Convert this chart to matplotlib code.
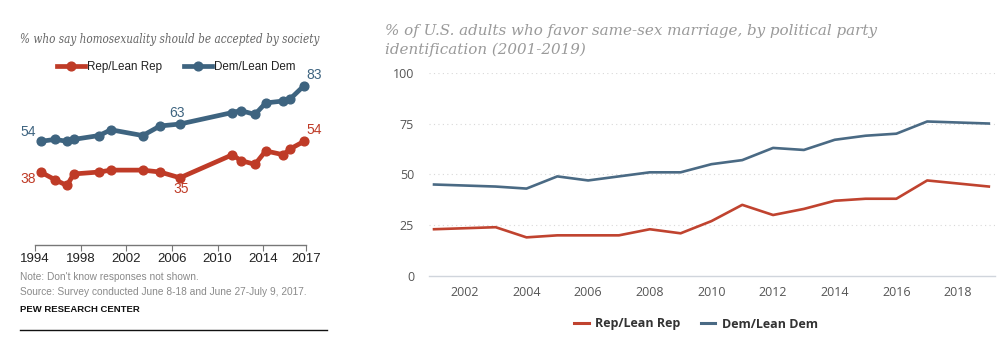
import matplotlib
matplotlib.use("Agg")
import matplotlib.pyplot as plt
from matplotlib.lines import Line2D

# ---------------- Left chart data ----------------
left_years = [1994.5, 1995.75, 1996.8, 1997.4, 1999.6, 2000.66, 2003.44, 2004.96,
              2006.7, 2011.3, 2012.03, 2013.28, 2014.22, 2015.76, 2016.35, 2017.58]
left_dem = [54, 55, 54, 55, 57, 60, 57, 62, 63, 69, 70, 68, 74, 75, 76, 83]
left_rep = [38, 34, 31, 37, 38, 39, 39, 38, 35, 47, 44, 42, 49, 47, 50, 54]
left_tick_pos = [1994, 1998, 2002, 2006, 2010, 2014, 2017.75]
left_tick_labels = ["1994", "1998", "2002", "2006", "2010", "2014", "2017"]

# ---------------- Right chart data ----------------
right_years = [2001, 2003, 2004, 2005, 2006, 2007, 2008, 2009, 2010, 2011,
               2012, 2013, 2014, 2015, 2016, 2017, 2019]
right_rep = [23, 24, 19, 20, 20, 20, 23, 21, 27, 35, 30, 33, 37, 38, 38, 47, 44]
right_dem = [45, 44, 43, 49, 47, 49, 51, 51, 55, 57, 63, 62, 67, 69, 70, 76, 75]
right_xticks = [2002, 2004, 2006, 2008, 2010, 2012, 2014, 2016, 2018]
right_yticks = [0, 25, 50, 75, 100]

RED_L = "#bf3b27"
BLUE_L = "#3e6480"
RED_R = "#c0432f"
BLUE_R = "#4a6a84"

W, H = 1008, 350
fig = plt.figure(figsize=(W / 100, H / 100), dpi=100)
fig.patch.set_facecolor("white")


def box(x0, y0, x1, y1):
    # pixel box (top-left origin) -> figure fraction rect
    return [x0 / W, 1 - y1 / H, (x1 - x0) / W, (y1 - y0) / H]


# ================= LEFT CHART =================
axl = fig.add_axes(box(35, 53, 306, 245))
axl.set_xlim(1994, 2017.75)
axl.set_ylim(0, 100)
axl.plot(left_years, left_rep, color=RED_L, lw=3.4, marker="o", ms=6.3,
         solid_capstyle="round", zorder=3, clip_on=False)
axl.plot(left_years, left_dem, color=BLUE_L, lw=3.4, marker="o", ms=6.3,
         solid_capstyle="round", zorder=3, clip_on=False)
for s in ["top", "right", "left"]:
    axl.spines[s].set_visible(False)
axl.spines["bottom"].set_color("#777777")
axl.spines["bottom"].set_linewidth(1.0)
axl.set_yticks([])
axl.set_xticks(left_tick_pos)
axl.set_xticklabels(left_tick_labels, fontsize=9.5, color="#222222",
                    family="Liberation Sans")
axl.tick_params(axis="x", direction="out", length=4, color="#777777", pad=2)

lbl_kw = dict(fontsize=10, family="Liberation Sans", textcoords="offset points")
axl.annotate(str(left_dem[0]), (left_years[0], left_dem[0]), xytext=(-9, 7),
             ha="center", va="center", color=BLUE_L, **lbl_kw)
axl.annotate(str(left_rep[0]), (left_years[0], left_rep[0]), xytext=(-9, -5),
             ha="center", va="center", color=RED_L, **lbl_kw)
axl.annotate(str(left_dem[8]), (left_years[8], left_dem[8]), xytext=(-2, 8),
             ha="center", va="center", color=BLUE_L, **lbl_kw)
axl.annotate(str(left_rep[8]), (left_years[8], left_rep[8]), xytext=(1, -8),
             ha="center", va="center", color=RED_L, **lbl_kw)
axl.annotate(str(left_dem[-1]), (left_years[-1], left_dem[-1]), xytext=(7, 8),
             ha="center", va="center", color=BLUE_L, **lbl_kw)
axl.annotate(str(left_rep[-1]), (left_years[-1], left_rep[-1]), xytext=(7, 8),
             ha="center", va="center", color=RED_L, **lbl_kw)

handles = [Line2D([], [], color=RED_L, lw=3.4, marker="o", ms=6.3),
           Line2D([], [], color=BLUE_L, lw=3.4, marker="o", ms=6.3)]
fig.legend(handles, ["Rep/Lean Rep", "Dem/Lean Dem"], ncol=2, loc="center",
           bbox_to_anchor=(176 / W, 1 - 67 / H), frameon=False,
           prop={"family": "Liberation Sans", "size": 8.4}, handlelength=2.4,
           handletextpad=0.15, columnspacing=1.9, numpoints=1,
           labelcolor="#222222")

fig.text(20 / W, 1 - 40 / H, "% who say homosexuality should be accepted by society",
         fontsize=8.4, style="italic", family="DejaVu Serif", stretch="condensed",
         color="#666666", ha="left", va="center")

fig.text(20 / W, 1 - 277 / H, "Note: Don't know responses not shown.",
         fontsize=7.3, family="Liberation Sans", color="#8a8a8a", ha="left", va="center")
fig.text(20 / W, 1 - 292 / H,
         "Source: Survey conducted June 8-18 and June 27-July 9, 2017.",
         fontsize=7.3, family="Liberation Sans", color="#8a8a8a", ha="left", va="center")
fig.text(20 / W, 1 - 309 / H, "PEW RESEARCH CENTER", fontsize=6.8,
         family="Liberation Sans", weight="bold", color="#111111",
         ha="left", va="center")
fig.add_artist(Line2D([20 / W, 327 / W], [1 - 330 / H, 1 - 330 / H],
                      color="#111111", lw=1.0, transform=fig.transFigure))

# ================= RIGHT CHART =================
axr = fig.add_axes(box(429.4, 72.7, 995, 276))
axr.set_xlim(2000.85, 2019.2)
axr.set_ylim(0, 100)
axr.plot(right_years, right_rep, color=RED_R, lw=1.9, zorder=3)
axr.plot(right_years, right_dem, color=BLUE_R, lw=1.9, zorder=3)
for s in ["top", "right", "left"]:
    axr.spines[s].set_visible(False)
axr.spines["bottom"].set_color("#d0d5dc")
axr.spines["bottom"].set_linewidth(1.0)
axr.set_yticks(right_yticks)
axr.set_xticks(right_xticks)
axr.tick_params(axis="both", length=0, labelsize=9, labelcolor="#555555")
axr.tick_params(axis="y", pad=11)
axr.tick_params(axis="x", pad=7)
for t in axr.get_xticklabels() + axr.get_yticklabels():
    t.set_family("Open Sans")
for v in right_yticks[1:]:
    axr.axhline(v, color="#d8d8d8", lw=0.8, ls=(0, (1, 3)), zorder=1)

fig.text(385 / W, 1 - 31 / H,
         "% of U.S. adults who favor same-sex marriage, by political party",
         fontsize=10.9, style="italic", family="DejaVu Serif", color="#9a9a9a",
         ha="left", va="center")
fig.text(385 / W, 1 - 50 / H, "identification (2001-2019)",
         fontsize=10.9, style="italic", family="DejaVu Serif", color="#9a9a9a",
         ha="left", va="center")

handles_r = [Line2D([], [], color=RED_R, lw=2.2),
             Line2D([], [], color=BLUE_R, lw=2.2)]
fig.legend(handles_r, ["Rep/Lean Rep", "Dem/Lean Dem"], ncol=2, loc="center",
           bbox_to_anchor=(696 / W, 1 - 324 / H), frameon=False,
           prop={"family": "Open Sans", "size": 9, "weight": "bold"},
           handlelength=1.15, handletextpad=0.55, columnspacing=1.6,
           labelcolor="#333333")

fig.savefig("out.png", dpi=100, facecolor="white")
